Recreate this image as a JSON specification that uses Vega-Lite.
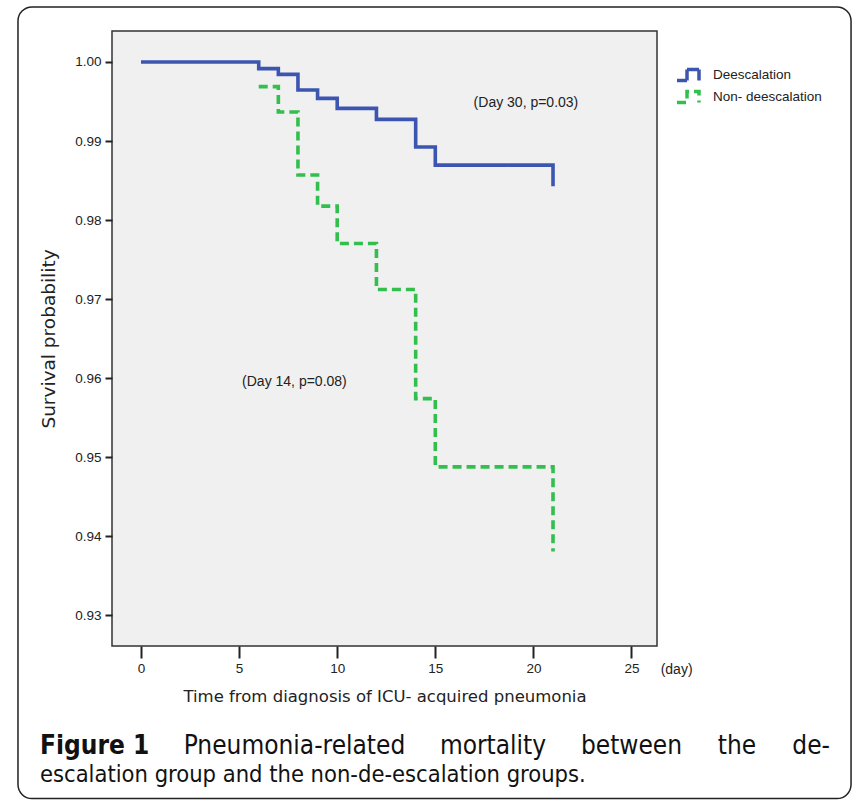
{
  "$schema": "https://vega.github.io/schema/vega-lite/v6.json",
  "width": 545,
  "height": 615,
  "autosize": {"type": "none"},
  "padding": {"left": 112, "top": 31, "right": 195, "bottom": 156},
  "background": "white",
  "config": {
    "view": {"fill": "#f0f0f0", "stroke": "#333333", "strokeWidth": 1.5},
    "font": "Liberation Sans"
  },
  "datasets": {
    "km": [
      {"group": "Deescalation", "day": 0, "survival": 1.0},
      {"group": "Deescalation", "day": 6, "survival": 0.99916},
      {"group": "Deescalation", "day": 7, "survival": 0.99844},
      {"group": "Deescalation", "day": 8, "survival": 0.99646},
      {"group": "Deescalation", "day": 9, "survival": 0.9954},
      {"group": "Deescalation", "day": 10, "survival": 0.99414},
      {"group": "Deescalation", "day": 12, "survival": 0.99274},
      {"group": "Deescalation", "day": 14, "survival": 0.98924},
      {"group": "Deescalation", "day": 15, "survival": 0.98696},
      {"group": "Deescalation", "day": 21, "survival": 0.9843},
      {"group": "Non- deescalation", "day": 6, "survival": 0.99688},
      {"group": "Non- deescalation", "day": 7, "survival": 0.99367},
      {"group": "Non- deescalation", "day": 8, "survival": 0.9857},
      {"group": "Non- deescalation", "day": 9, "survival": 0.98177},
      {"group": "Non- deescalation", "day": 10, "survival": 0.97705},
      {"group": "Non- deescalation", "day": 12, "survival": 0.97123},
      {"group": "Non- deescalation", "day": 14, "survival": 0.95743},
      {"group": "Non- deescalation", "day": 15, "survival": 0.9488},
      {"group": "Non- deescalation", "day": 21, "survival": 0.9381}
    ]
  },
  "layer": [
    {
      "data": {"name": "km"},
      "mark": {"type": "line", "interpolate": "step-after", "strokeWidth": 3.6, "strokeCap": "butt"},
      "encoding": {
        "x": {
          "field": "day", "type": "quantitative",
          "scale": {"domain": [-1.478, 26.3], "nice": false, "zero": false},
          "axis": {
            "values": [0, 5, 10, 15, 20, 25],
            "title": "Time from diagnosis of ICU- acquired pneumonia",
            "titleFont": "DejaVu Sans", "titleFontSize": 16.5, "titleFontWeight": "normal", "titleColor": "#222222",
            "titlePadding": 14,
            "labelFont": "Liberation Sans", "labelFontSize": 13.5, "labelColor": "#222222", "labelPadding": 3,
            "tickSize": 12, "tickWidth": 2, "tickColor": "#222222",
            "domain": false, "grid": false, "labelFlush": false
          }
        },
        "y": {
          "field": "survival", "type": "quantitative",
          "scale": {"domain": [0.92614, 1.00392], "nice": false, "zero": false},
          "axis": {
            "values": [0.93, 0.94, 0.95, 0.96, 0.97, 0.98, 0.99, 1.0],
            "format": ".2f",
            "title": "Survival probability",
            "titleFont": "DejaVu Sans", "titleFontSize": 18.5, "titleFontWeight": "normal", "titleColor": "#222222",
            "titlePadding": 16,
            "labelFont": "Liberation Sans", "labelFontSize": 13.5, "labelColor": "#222222", "labelPadding": 4,
            "tickSize": 7, "tickWidth": 2, "tickColor": "#222222",
            "domain": false, "grid": false, "labelFlush": false
          }
        },
        "color": {
          "field": "group", "type": "nominal",
          "scale": {"domain": ["Deescalation", "Non- deescalation"], "range": ["#3b55b0", "#33bf4d"]},
          "legend": {
            "title": null, "orient": "none", "legendX": 570, "legendY": 37,
            "symbolType": "M-2.4,1.1H-0.4V-1.1H2.0V1.1",
            "symbolSize": 100, "symbolStrokeWidth": 3.5, "symbolFillColor": "transparent",
            "labelFont": "Liberation Sans", "labelFontSize": 13.5, "labelColor": "#222222",
            "labelOffset": 17, "rowPadding": -4, "padding": 0
          }
        },
        "strokeDash": {
          "field": "group", "type": "nominal",
          "scale": {"domain": ["Deescalation", "Non- deescalation"], "range": [[1, 0], [9, 5]]},
          "legend": {
            "title": null, "orient": "none", "legendX": 570, "legendY": 37,
            "symbolType": "M-2.4,1.1H-0.4V-1.1H2.0V1.1",
            "symbolSize": 100, "symbolStrokeWidth": 3.5, "symbolFillColor": "transparent",
            "labelFont": "Liberation Sans", "labelFontSize": 13.5, "labelColor": "#222222",
            "labelOffset": 17, "rowPadding": -4, "padding": 0
          }
        }
      }
    },
    {
      "data": {"values": [{}]},
      "mark": {"type": "text", "text": "(Day 30, p=0.03)", "font": "Liberation Sans", "fontSize": 14, "color": "#222222", "align": "center", "baseline": "middle"},
      "encoding": {
        "x": {"datum": 19.62, "type": "quantitative"},
        "y": {"datum": 0.99481, "type": "quantitative"}
      }
    },
    {
      "data": {"values": [{}]},
      "mark": {"type": "text", "text": "(Day 14, p=0.08)", "font": "Liberation Sans", "fontSize": 14, "color": "#222222", "align": "center", "baseline": "middle"},
      "encoding": {
        "x": {"datum": 7.82, "type": "quantitative"},
        "y": {"datum": 0.95949, "type": "quantitative"}
      }
    },
    {
      "data": {"values": [{}]},
      "mark": {"type": "text", "text": "(day)", "font": "Liberation Sans", "fontSize": 14, "color": "#222222", "align": "center", "baseline": "middle"},
      "encoding": {
        "x": {"datum": 27.3, "type": "quantitative"},
        "y": {"datum": 0.92316, "type": "quantitative"}
      }
    },
    {
      "data": {"values": [{}]},
      "mark": {"type": "text", "text": "Figure 1", "font": "DejaVu Sans Condensed, sans-serif", "fontSize": 26, "fontWeight": "bold", "color": "#111111", "align": "left", "baseline": "middle"},
      "encoding": {
        "x": {"datum": -5.148, "type": "quantitative"},
        "y": {"datum": 0.91354, "type": "quantitative"}
      }
    },
    {
      "data": {"values": [{}]},
      "mark": {"type": "text", "text": "Pneumonia-related", "font": "DejaVu Sans Condensed, sans-serif", "fontSize": 26, "color": "#111111", "align": "center", "baseline": "middle"},
      "encoding": {
        "x": {"datum": 7.824, "type": "quantitative"},
        "y": {"datum": 0.91354, "type": "quantitative"}
      }
    },
    {
      "data": {"values": [{}]},
      "mark": {"type": "text", "text": "mortality", "font": "DejaVu Sans Condensed, sans-serif", "fontSize": 26, "color": "#111111", "align": "center", "baseline": "middle"},
      "encoding": {
        "x": {"datum": 17.941, "type": "quantitative"},
        "y": {"datum": 0.91354, "type": "quantitative"}
      }
    },
    {
      "data": {"values": [{}]},
      "mark": {"type": "text", "text": "between", "font": "DejaVu Sans Condensed, sans-serif", "fontSize": 26, "color": "#111111", "align": "center", "baseline": "middle"},
      "encoding": {
        "x": {"datum": 25.0, "type": "quantitative"},
        "y": {"datum": 0.91354, "type": "quantitative"}
      }
    },
    {
      "data": {"values": [{}]},
      "mark": {"type": "text", "text": "the", "font": "DejaVu Sans Condensed, sans-serif", "fontSize": 26, "color": "#111111", "align": "center", "baseline": "middle"},
      "encoding": {
        "x": {"datum": 30.377, "type": "quantitative"},
        "y": {"datum": 0.91354, "type": "quantitative"}
      }
    },
    {
      "data": {"values": [{}]},
      "mark": {"type": "text", "text": "de-", "font": "DejaVu Sans Condensed, sans-serif", "fontSize": 26, "color": "#111111", "align": "right", "baseline": "middle"},
      "encoding": {
        "x": {"datum": 35.117, "type": "quantitative"},
        "y": {"datum": 0.91354, "type": "quantitative"}
      }
    },
    {
      "data": {"values": [{}]},
      "mark": {"type": "text", "text": "escalation group and the non-de-escalation groups.", "font": "DejaVu Sans Condensed, sans-serif", "fontSize": 23.5, "color": "#111111", "align": "left", "baseline": "middle"},
      "encoding": {
        "x": {"datum": -5.148, "type": "quantitative"},
        "y": {"datum": 0.90987, "type": "quantitative"}
      }
    },
    {
      "data": {"values": [{}]},
      "mark": {"type": "rect", "fill": null, "fillOpacity": 0, "stroke": "#222222", "strokeWidth": 1.5, "cornerRadius": 14},
      "encoding": {
        "x": {"datum": -6.27, "type": "quantitative"},
        "x2": {"datum": 36.19},
        "y": {"datum": 1.00696, "type": "quantitative"},
        "y2": {"datum": 0.90684}
      }
    }
  ]
}
